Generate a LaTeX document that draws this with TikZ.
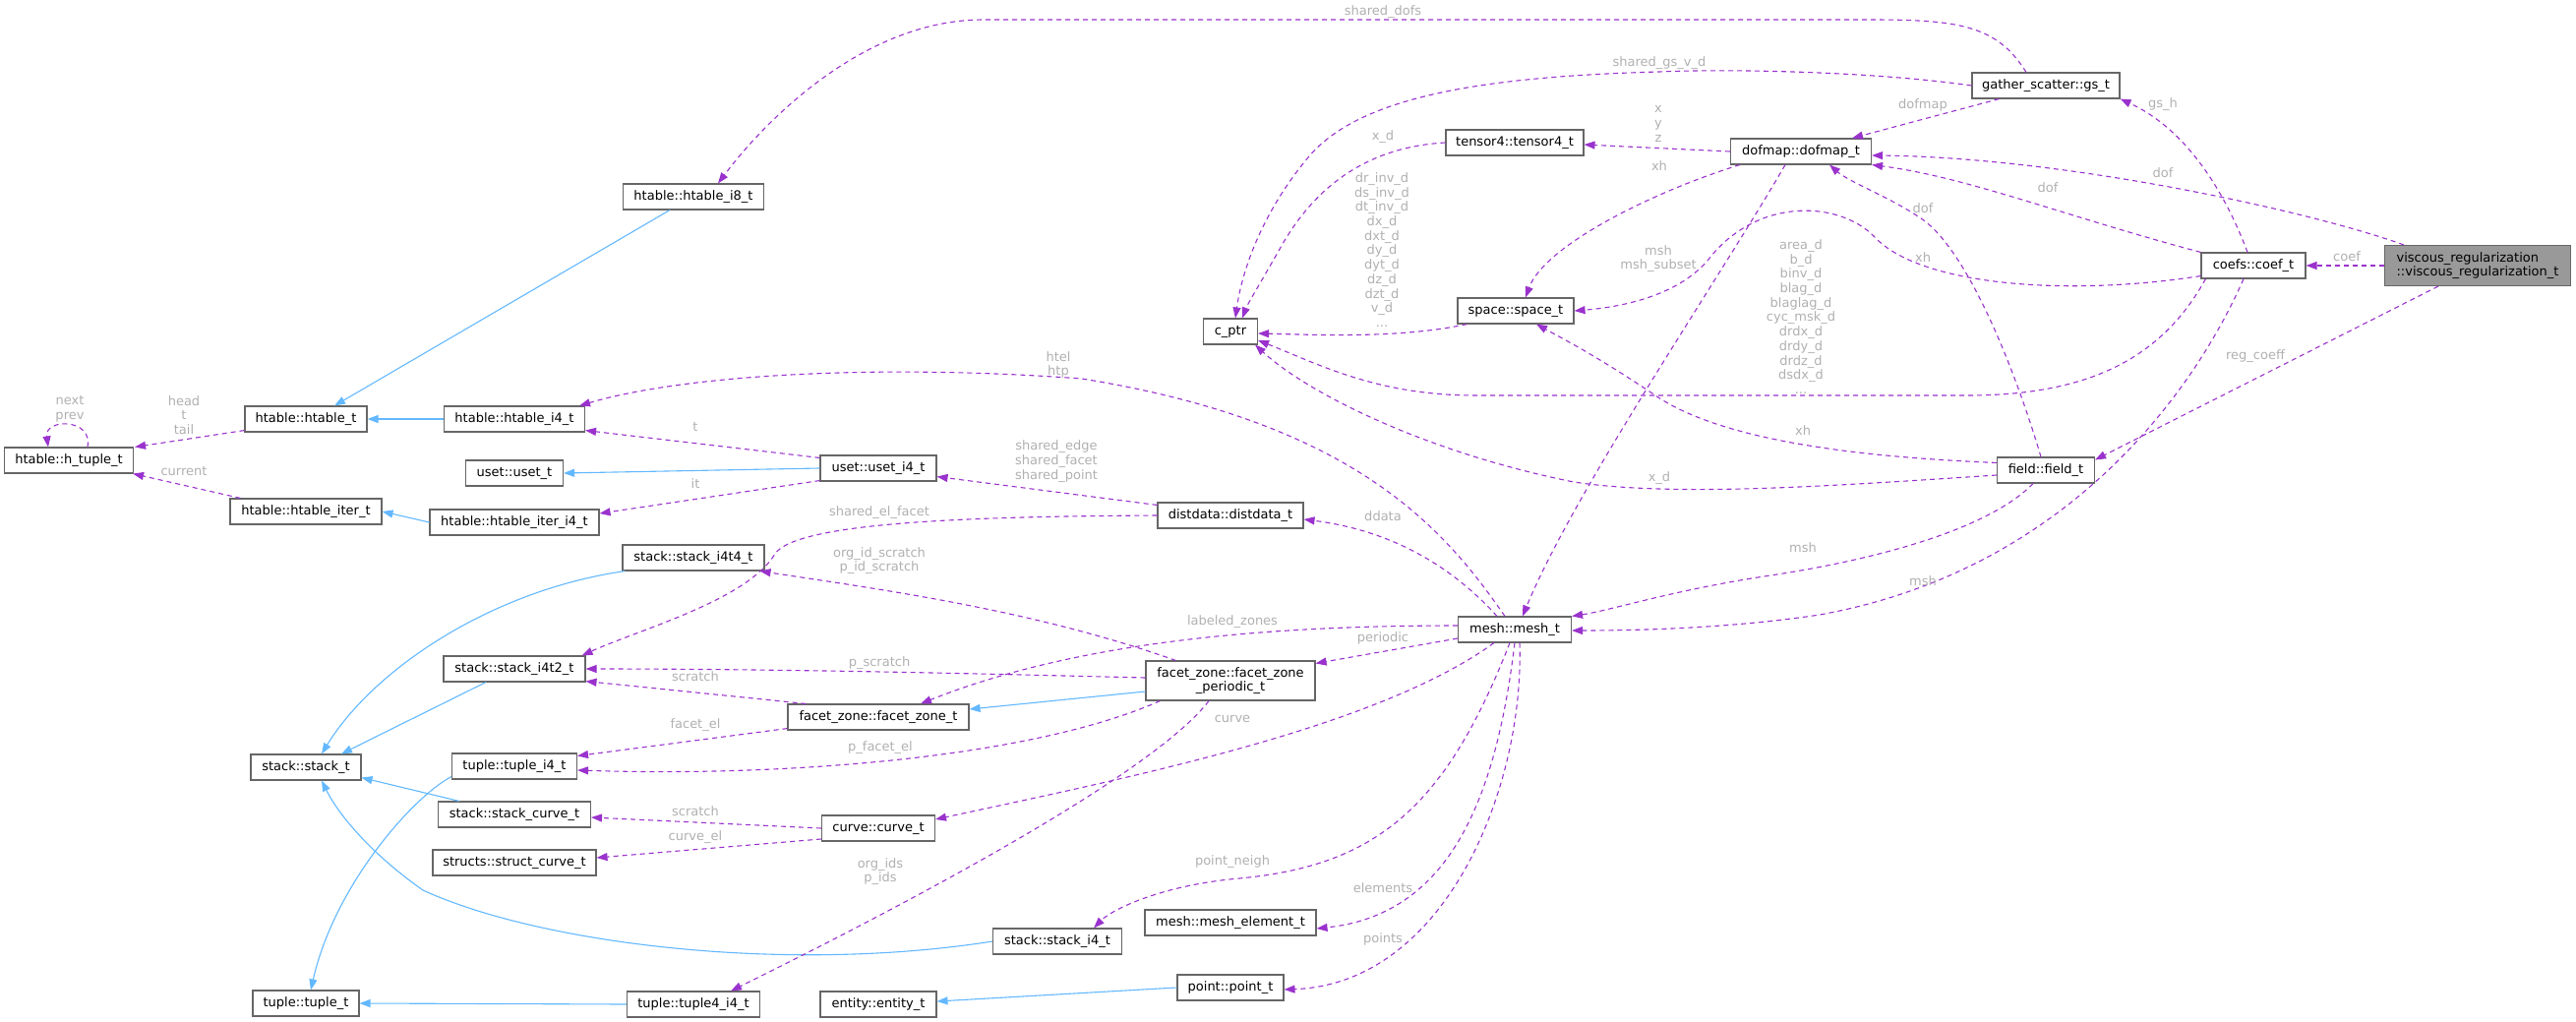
\documentclass[tikz,border=0pt]{standalone}
\usepackage{fontspec}
\setmainfont{DejaVu Sans}
\usetikzlibrary{arrows.meta,calc}
\definecolor{usep}{HTML}{9A32CD}
\definecolor{inhb}{HTML}{63B8FF}
\definecolor{boxg}{HTML}{666666}
\definecolor{lblg}{HTML}{B0B0B0}
\definecolor{hilite}{HTML}{999999}
\begin{document}
\begin{tikzpicture}[x=1pt,y=-1pt,
  every node/.style={font=\fontsize{13}{14.7}\selectfont},
  box/.style={draw=boxg, fill=white, line width=1.1pt, minimum height=26pt, inner sep=0pt, align=center},
  inh/.style={draw=inhb, line width=1.1pt, -{Triangle[length=11pt,width=8pt]}},
  use/.style={draw=usep, line width=1.1pt, dash pattern=on 5pt off 4pt, -{Triangle[length=11pt,width=8pt]}},
  lbl/.style={text=lblg, align=center, inner sep=0pt}]
\useasboundingbox (0,0) rectangle (2619,1039);
% nodes
\node[box,minimum width=131pt] (htuple) at (70,468) {htable::h\_tuple\_t};
\node[box,minimum width=124pt] (htablet) at (311,426) {htable::htable\_t};
\node[box,minimum width=143pt] (hi4) at (523,426) {htable::htable\_i4\_t};
\node[box,minimum width=143pt] (hi8) at (705,200) {htable::htable\_i8\_t};
\node[box,minimum width=99pt] (usett) at (523,481) {uset::uset\_t};
\node[box,minimum width=154pt] (itert) at (311,520) {htable::htable\_iter\_t};
\node[box,minimum width=172pt] (iteri4) at (523,531) {htable::htable\_iter\_i4\_t};
\node[box,minimum width=118pt] (useti4) at (893,476) {uset::uset\_i4\_t};
\node[box,minimum width=148pt] (distdata) at (1251,524) {distdata::distdata\_t};
\node[box,minimum width=144pt] (si4t4) at (705,567) {stack::stack\_i4t4\_t};
\node[box,minimum width=144pt] (si4t2) at (523,680) {stack::stack\_i4t2\_t};
\node[box,minimum width=172pt,minimum height=40pt] (periodic) at (1251,692) {facet\_zone::facet\_zone\\\_periodic\_t};
\node[box,minimum width=184pt] (fzt) at (893,729) {facet\_zone::facet\_zone\_t};
\node[box,minimum width=112pt] (stackt) at (311,780) {stack::stack\_t};
\node[box,minimum width=127pt] (tuplei4) at (523,779) {tuple::tuple\_i4\_t};
\node[box,minimum width=155pt] (scurve) at (523,828) {stack::stack\_curve\_t};
\node[box,minimum width=115pt] (curve) at (893,842) {curve::curve\_t};
\node[box,minimum width=166pt] (structs) at (523,877) {structs::struct\_curve\_t};
\node[box,minimum width=131pt] (si4) at (1075,957) {stack::stack\_i4\_t};
\node[box,minimum width=174pt] (melem) at (1251,938) {mesh::mesh\_element\_t};
\node[box,minimum width=108pt] (tuplet) at (311,1020) {tuple::tuple\_t};
\node[box,minimum width=135pt] (tuple4) at (705,1021) {tuple::tuple4\_i4\_t};
\node[box,minimum width=118pt] (entity) at (893,1021) {entity::entity\_t};
\node[box,minimum width=108pt] (point) at (1251,1004) {point::point\_t};
\node[box,minimum width=115pt] (mesh) at (1540,640) {mesh::mesh\_t};
\node[box,minimum width=55pt] (cptr) at (1251,337) {c\_ptr};
\node[box,minimum width=118pt] (space) at (1541,316) {space::space\_t};
\node[box,minimum width=140pt] (tensor4) at (1540,145) {tensor4::tensor4\_t};
\node[box,minimum width=143pt] (dofmap) at (1831,154) {dofmap::dofmap\_t};
\node[box,minimum width=150pt] (gs) at (2080,87) {gather\_scatter::gs\_t};
\node[box,minimum width=99pt] (field) at (2080,478) {field::field\_t};
\node[box,minimum width=106pt] (coef) at (2291,270) {coefs::coef\_t};
\node[box,fill=hilite,minimum width=189pt,minimum height=41pt,align=left] (visc) at (2519,270) {viscous\_regularization\\::viscous\_regularization\_t};
% inheritance
\draw[inh] ($(hi8.south)+(-24,0)$) -- ($(htablet.north)+(29,0)$);
\draw[inh] (hi4.west) -- (htablet.east);
\draw[inh] (useti4.west) -- (usett.east);
\draw[inh] (iteri4.west) -- (itert.east);
\draw[inh] ($(si4t4.south west)+(3,0)$) .. controls (500,600) and (380,680) .. ($(stackt.north)+(16,0)$);
\draw[inh] ($(si4t2.south)+(-29,0)$) -- ($(stackt.north)+(36,0)$);
\draw[inh] ($(scurve.north west)+(22,0)$) -- ($(stackt.south east)+(0,-3)$);
\draw[inh] (si4.west) .. controls (800,990) and (550,960) .. (430,905) .. controls (380,870) and (345,830) .. ($(stackt.south)+(16,0)$);
\draw[inh] ($(tuplei4.south west)+(0,-3)$) .. controls (420,810) and (340,900) .. ($(tuplet.north)+(5,0)$);
\draw[inh] (tuple4.west) -- (tuplet.east);
\draw[inh] ($(periodic.west)+(0,11)$) -- ($(fzt.east)+(0,-8)$);
\draw[inh] (point.west) -- ($(entity.east)+(0,-3)$);
% usage
\draw[use] ($(htuple.north)+(19,0)$) .. controls (95,425) and (45,425) .. ($(htuple.north)+(-21,0)$);
\draw[use] ($(htablet.south west)+(0,-2)$) -- ($(htuple.north east)+(1,0)$);
\draw[use] ($(itert.north west)+(11,0)$) -- ($(htuple.south east)+(-1,0)$);
\draw[use] ($(useti4.north west)+(0,3)$) -- ($(hi4.south east)+(0,-2)$);
\draw[use] ($(useti4.south west)+(0,-1)$) -- ($(iteri4.east)+(0,-9)$);
\draw[use] ($(mesh.north)+(-10,0)$) .. controls (1470,540) and (1380,430) .. (1100,385) .. controls (900,370) and (700,380) .. ($(hi4.north east)+(-6,0)$);
\draw[use] ($(mesh.north)+(-18,0)$) .. controls (1480,580) and (1420,540) .. ($(distdata.east)+(0,4)$);
\draw[use] ($(mesh.west)+(0,-4)$) .. controls (1300,636) and (1100,650) .. ($(fzt.north)+(43,0)$);
\draw[use] ($(mesh.west)+(0,9)$) -- ($(periodic.north east)+(0,3)$);
\draw[use] ($(mesh.south west)+(37,0)$) .. controls (1400,740) and (1150,790) .. ($(curve.east)+(0,-9)$);
\draw[use] ($(mesh.south)+(-5,0)$) .. controls (1470,820) and (1400,880) .. (1260,893) .. controls (1180,900) and (1130,925) .. ($(si4.north east)+(-29,0)$);
\draw[use] (mesh.south) .. controls (1520,820) and (1470,930) .. ($(melem.east)+(0,6)$);
\draw[use] ($(mesh.south)+(5,0)$) .. controls (1550,800) and (1470,1000) .. ($(point.east)+(0,2)$);
\draw[use] ($(periodic.north west)+(31,0)$) .. controls (1050,620) and (900,600) .. ($(si4t4.south east)+(-5,0)$);
\draw[use] ($(periodic.west)+(0,-3)$) .. controls (1000,685) and (800,680) .. (si4t2.east);
\draw[use] ($(periodic.south west)+(15,0)$) .. controls (1050,770) and (800,790) .. ($(tuplei4.east)+(0,4)$);
\draw[use] ($(periodic.south)+(-22,0)$) .. controls (1170,790) and (900,930) .. ($(tuple4.north)+(38,0)$);
\draw[use] ($(fzt.north west)+(19,0)$) -- ($(si4t2.south east)+(0,-1)$);
\draw[use] ($(fzt.south west)+(0,-2)$) -- ($(tuplei4.north east)+(0,3)$);
\draw[use] ($(distdata.north west)+(0,3)$) -- ($(useti4.south east)+(0,-5)$);
\draw[use] (distdata.west) .. controls (1000,525) and (810,530) .. (788,563) .. controls (760,610) and (650,640) .. ($(si4t2.north east)+(-4,0)$);
\draw[use] (curve.west) -- ($(scurve.east)+(0,3)$);
\draw[use] ($(curve.west)+(0,11)$) -- ($(structs.east)+(0,-5)$);
\draw[use] ($(gs.north)+(-20,0)$) .. controls (2030,25) and (1990,20) .. (1900,20) -- (1000,20) .. controls (880,20) and (780,120) .. ($(hi8.north)+(25,0)$);
\draw[use] (gs.west) .. controls (1900,72) and (1750,70) .. (1687,73) .. controls (1500,78) and (1380,100) .. (1330,160) .. controls (1280,220) and (1262,280) .. ($(cptr.north)+(5,0)$);
\draw[use] (tensor4.west) .. controls (1380,150) and (1330,200) .. (1300,255) .. controls (1280,290) and (1268,310) .. ($(cptr.north)+(12,0)$);
\draw[use] ($(space.south west)+(10,0)$) .. controls (1420,345) and (1330,340) .. ($(cptr.east)+(0,2)$);
\draw[use] ($(coef.south west)+(5,0)$) .. controls (2200,360) and (2130,402) .. (2000,402) -- (1500,402) .. controls (1400,402) and (1340,370) .. ($(cptr.east)+(0,9)$);
\draw[use] ($(field.west)+(0,5)$) .. controls (1850,495) and (1700,505) .. (1600,490) .. controls (1450,460) and (1330,400) .. ($(cptr.south east)+(-3,0)$);
\draw[use] (dofmap.west) -- ($(tensor4.east)+(0,2)$);
\draw[use] ($(dofmap.south west)+(10,0)$) .. controls (1680,195) and (1570,250) .. ($(space.north)+(10,0)$);
\draw[use] ($(dofmap.south)+(-16,0)$) .. controls (1750,280) and (1600,500) .. ($(mesh.north)+(8,0)$);
\draw[use] ($(gs.south west)+(28,0)$) -- ($(dofmap.north east)+(-20,0)$);
\draw[use] ($(coef.north)+(-6,0)$) .. controls (2260,190) and (2220,130) .. (gs.south east);
\draw[use] (coef.north west) .. controls (2100,220) and (2000,180) .. ($(dofmap.south east)+(0,0)$);
\draw[use] ($(visc.north west)+(20,0)$) .. controls (2350,215) and (2100,160) .. ($(dofmap.east)+(0,4)$);
\draw[use] (visc.west) -- (coef.east);
\draw[use] ($(visc.south west)+(55,0)$) -- ($(field.north east)+(0,3)$);
\draw[use] ($(coef.south west)+(0,-3)$) .. controls (2100,302) and (1950,290) .. (1905,240) .. controls (1870,205) and (1790,200) .. (1740,260) .. controls (1710,300) and (1650,312) .. (space.east);
\draw[use] ($(coef.south)+(-10,0)$) .. controls (2230,400) and (2100,580) .. (1850,625) .. controls (1750,640) and (1650,641) .. ($(mesh.east)+(0,1)$);
\draw[use] ($(field.north)+(-5,0)$) .. controls (2050,380) and (2000,250) .. (1950,220) .. controls (1920,200) and (1880,185) .. ($(dofmap.south east)+(-43,0)$);
\draw[use] ($(field.north west)+(0,6)$) .. controls (1900,465) and (1750,450) .. (1680,400) .. controls (1620,360) and (1590,345) .. ($(space.south)+(21,0)$);
\draw[use] ($(field.south)+(-13,0)$) .. controls (2020,540) and (1900,570) .. (1800,585) .. controls (1700,600) and (1640,620) .. (mesh.north east);
% labels
\node[lbl] (l1) at (71,416) {next\\prev};
\node[lbl] (l2) at (187,422) {head\\t\\tail};
\node[lbl] (l3) at (187,479) {current};
\node[lbl] (l4) at (707,434) {t};
\node[lbl] (l5) at (707,492) {it};
\node[lbl] (l6) at (1076,371) {htel\\htp};
\node[lbl] (l7) at (1074,469) {shared\_edge\\shared\_facet\\shared\_point};
\node[lbl] (l8) at (894,521) {shared\_el\_facet};
\node[lbl] (l9) at (894,570) {org\_id\_scratch\\p\_id\_scratch};
\node[lbl] (l10) at (894,674) {p\_scratch};
\node[lbl] (l11) at (707,688) {scratch};
\node[lbl] (l12) at (707,737) {facet\_el};
\node[lbl] (l13) at (895,760) {p\_facet\_el};
\node[lbl] (l14) at (1253,632) {labeled\_zones};
\node[lbl] (l15) at (1406,649) {periodic};
\node[lbl] (l16) at (1406,525) {ddata};
\node[lbl] (l17) at (1253,731) {curve};
\node[lbl] (l18) at (707,825) {scratch};
\node[lbl] (l19) at (707,851) {curve\_el};
\node[lbl] (l20) at (895,886) {org\_ids\\p\_ids};
\node[lbl] (l21) at (1253,876) {point\_neigh};
\node[lbl] (l22) at (1406,903) {elements};
\node[lbl] (l23) at (1406,955) {points};
\node[lbl] (l24) at (1406,12) {shared\_dofs};
\node[lbl] (l25) at (1687,64) {shared\_gs\_v\_d};
\node[lbl] (l26) at (1686,126) {x\\y\\z};
\node[lbl] (l27) at (1406,139) {x\_d};
\node[lbl] (l28) at (1405,254) {dr\_inv\_d\\ds\_inv\_d\\dt\_inv\_d\\dx\_d\\dxt\_d\\dy\_d\\dyt\_d\\dz\_d\\dzt\_d\\v\_d\\...};
\node[lbl] (l29) at (1687,169) {xh};
\node[lbl] (l30) at (1686,263) {msh\\msh\_subset};
\node[lbl] (l31) at (1831,322) {area\_d\\b\_d\\binv\_d\\blag\_d\\blaglag\_d\\cyc\_msk\_d\\drdx\_d\\drdy\_d\\drdz\_d\\dsdx\_d\\...};
\node[lbl] (l32) at (1833,438) {xh};
\node[lbl] (l33) at (1687,486) {x\_d};
\node[lbl] (l34) at (1833,557) {msh};
\node[lbl] (l35) at (1955,591) {msh};
\node[lbl] (l36) at (1955,107) {dofmap};
\node[lbl] (l37) at (2199,106) {gs\_h};
\node[lbl] (l38) at (2199,176) {dof};
\node[lbl] (l39) at (2082,191) {dof};
\node[lbl] (l40) at (1955,212) {dof};
\node[lbl] (l41) at (1955,262) {xh};
\node[lbl] (l42) at (2386,261) {coef};
\node[lbl] (l43) at (2293,362) {reg\_coeff};
\end{tikzpicture}
\end{document}
